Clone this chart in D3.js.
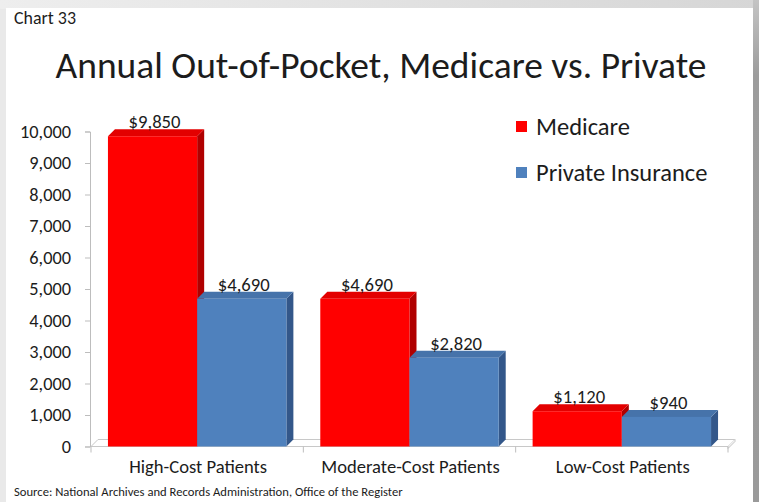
<!DOCTYPE html>
<html>
<head>
<meta charset="utf-8">
<script src="https://cdn.jsdelivr.net/npm/d3@7"></script>
<style>
  html, body { margin: 0; padding: 0; background: #ffffff; }
  svg { display: block; }
  text { font-family: Carlito, Lato, "Open Sans", sans-serif; fill: #1c1c1c; }
</style>
</head>
<body>
<svg id="chart" width="759" height="502"></svg>
<script>
// Chart data
const categories = ["High-Cost Patients", "Moderate-Cost Patients", "Low-Cost Patients"];
const seriesNames = ["Medicare", "Private Insurance"];
const medicareValues = [9850, 4690, 1120];
const privateValues = [4690, 2820, 940];
const yTickValues = [0, 1000, 2000, 3000, 4000, 5000, 6000, 7000, 8000, 9000, 10000];
const chartLabel = "Chart 33";
const titleText = "Annual Out-of-Pocket, Medicare vs. Private";
const sourceText = "Source:  National Archives and Records Administration, Office of the Register";

const W = 759, H = 502;
const svg = d3.select("#chart");

// Scale a text element's font size so it spans the given width
function fitWidth(sel, target) {
  const w = sel.node().getComputedTextLength();
  const fs = parseFloat(sel.attr("font-size"));
  const nfs = fs * target / w;
  sel.attr("font-size", nfs);
  return nfs;
}

// ---- Slide frame ----
const defs = svg.append("defs");
const topGrad = defs.append("linearGradient").attr("id", "topBand").attr("x1", 0).attr("x2", 1).attr("y1", 0).attr("y2", 0);
topGrad.append("stop").attr("offset", 0).attr("stop-color", "#eeeeee");
topGrad.append("stop").attr("offset", 1).attr("stop-color", "#d6d6d6");
const rightGrad = defs.append("linearGradient").attr("id", "rightBand").attr("x1", 0).attr("x2", 0).attr("y1", 0).attr("y2", 1);
rightGrad.append("stop").attr("offset", 0).attr("stop-color", "#c4c4c4");
rightGrad.append("stop").attr("offset", 0.15).attr("stop-color", "#9c9c9c");
rightGrad.append("stop").attr("offset", 1).attr("stop-color", "#9a9a9a");

svg.append("rect").attr("width", W).attr("height", H).attr("fill", "#e9e9e9");
svg.append("rect").attr("width", W).attr("height", 9).attr("fill", "url(#topBand)");
svg.append("rect").attr("x", 753).attr("y", 0).attr("width", 6).attr("height", H).attr("fill", "url(#rightBand)");
svg.append("rect").attr("x", 6).attr("y", 8).attr("width", 747).attr("height", H - 8).attr("fill", "#ffffff");

// ---- Headings ----
const lab = svg.append("text").attr("x", 14).attr("y", 24).attr("font-size", 16).text(chartLabel);
fitWidth(lab, 62);

const title = svg.append("text").attr("x", 381).attr("y", 78).attr("text-anchor", "middle")
  .attr("font-size", 34).text(titleText);
fitWidth(title, 651);

// ---- Scales ----
const y = d3.scaleLinear().domain([0, 10000]).range([446.5, 131.5]);
const x0 = d3.scaleBand().domain(categories).range([91, 728]);
const x1 = d3.scaleBand().domain(seriesNames).range([0, x0.bandwidth()]).paddingOuter(0.19);
const depth = 7;

const colors = {
  "Medicare": { front: "#ff0000", top: "#e30000", side: "#b00000" },
  "Private Insurance": { front: "#4f81bd", top: "#4673aa", side: "#33578a" }
};

// ---- Floor ----
const y0 = y(0);
const floor = svg.append("g");
floor.append("path")
  .attr("d", `M${x0.range()[0]},${y0} L${x0.range()[1]},${y0} L${x0.range()[1] + depth},${y0 - depth} L${x0.range()[0] + depth},${y0 - depth} Z`)
  .attr("fill", "#ffffff").attr("stroke", "#c8c8c8").attr("stroke-width", 1);
floor.append("path")
  .attr("d", `M${x0.range()[1]},${y0} L${x0.range()[1]},${y0 + 2} L${x0.range()[1] + depth},${y0 + 2 - depth} L${x0.range()[1] + depth},${y0 - depth}`)
  .attr("fill", "#f2f2f2").attr("stroke", "#c8c8c8").attr("stroke-width", 1);

// Category axis ticks at band boundaries
const bounds = categories.map(c => x0(c)).concat([x0.range()[1]]);
floor.selectAll("line.ctick").data(bounds).join("line")
  .attr("x1", d => d).attr("x2", d => d).attr("y1", y0).attr("y2", y0 + 6)
  .attr("stroke", "#bdbdbd").attr("stroke-width", 1);

// ---- Value axis ----
const yAxis = d3.axisLeft(y).tickValues(yTickValues).tickFormat(d3.format(",")).tickSize(5).tickPadding(14);
const yg = svg.append("g").attr("transform", `translate(${x0.range()[0] - 1},0)`).call(yAxis);
yg.select(".domain").attr("stroke", "#bdbdbd");
yg.selectAll(".tick line").attr("stroke", "#bdbdbd");
const tickTexts = yg.selectAll(".tick text").attr("fill", "#1c1c1c").attr("font-family", null).attr("font-size", 18);
const topTick = yg.selectAll(".tick text").filter(d => d === 10000);
const tickFs = fitWidth(topTick, 51);
tickTexts.attr("font-size", tickFs);
yg.attr("font-family", null).attr("font-size", null);

// ---- Bars ----
const rows = categories.map((c, i) => ({
  category: c,
  values: [
    { series: "Medicare", value: medicareValues[i] },
    { series: "Private Insurance", value: privateValues[i] }
  ]
}));

const groups = svg.selectAll("g.cat").data(rows).join("g")
  .attr("class", "cat")
  .attr("transform", d => `translate(${x0(d.category)},0)`);

const bars = groups.selectAll("g.bar").data(d => d.values).join("g").attr("class", "bar");
bars.each(function(d) {
  const g = d3.select(this);
  const bx = x1(d.series), bw = x1.bandwidth();
  const yt = y(d.value);
  const c = colors[d.series];
  g.append("path")
    .attr("d", `M${bx + bw},${yt} L${bx + bw + depth},${yt - depth} L${bx + bw + depth},${y0 - depth} L${bx + bw},${y0} Z`)
    .attr("fill", c.side);
  g.append("path")
    .attr("d", `M${bx},${yt} L${bx + bw},${yt} L${bx + bw + depth},${yt - depth} L${bx + depth},${yt - depth} Z`)
    .attr("fill", c.top);
  g.append("rect")
    .attr("x", bx).attr("y", yt).attr("width", bw).attr("height", y0 - yt)
    .attr("fill", c.front);
});

// Value labels
const valueLabels = bars.append("text")
  .attr("x", d => x1(d.series) + x1.bandwidth() / 2 + 2)
  .attr("y", d => y(d.value) - depth - 1)
  .attr("text-anchor", "middle")
  .attr("font-size", 18)
  .text(d => "$" + d3.format(",")(d.value));
const firstLabel = valueLabels.filter(d => d.value === medicareValues[0]);
const valFs = fitWidth(firstLabel, 52);
valueLabels.attr("font-size", valFs);

// Category labels
const catLabels = svg.selectAll("text.catlab").data(categories).join("text")
  .attr("class", "catlab")
  .attr("x", d => x0(d) + x0.bandwidth() / 2 + 1)
  .attr("y", 473)
  .attr("text-anchor", "middle")
  .attr("font-size", 18)
  .text(d => d);
const catFs = fitWidth(catLabels.filter((d, i) => i === 0), 138);
catLabels.attr("font-size", catFs);

// ---- Legend ----
const legend = svg.append("g").attr("transform", "translate(516,121)");
const items = legend.selectAll("g").data(seriesNames).join("g")
  .attr("transform", (d, i) => `translate(0,${i * 46})`);
items.append("rect").attr("width", 11).attr("height", 11).attr("fill", d => colors[d].front);
const legTexts = items.append("text").attr("x", 20).attr("y", 14).attr("font-size", 24).text(d => d);
const legFs = fitWidth(legTexts.filter((d, i) => i === 0), 94);
legTexts.attr("font-size", legFs);

// ---- Source ----
const src = svg.append("text").attr("x", 14).attr("y", 496).attr("font-size", 11)
  .attr("fill", "#262626").text(sourceText);
fitWidth(src, 389);
</script>
</body>
</html>
